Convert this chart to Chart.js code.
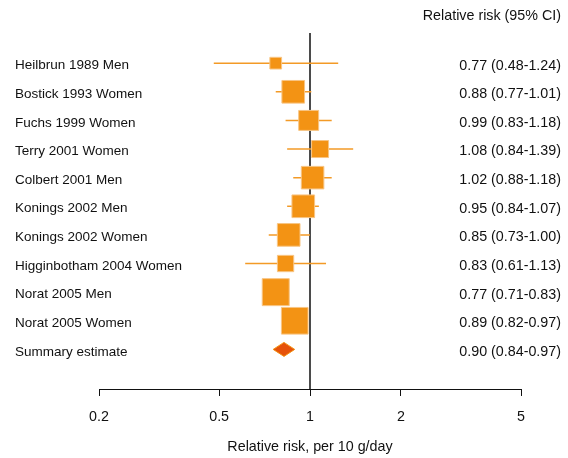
<!DOCTYPE html>
<html>
<head>
<meta charset="utf-8">
<script src="https://cdn.jsdelivr.net/npm/chart.js@4.4.1/dist/chart.umd.min.js"></script>
<style>
  html, body { margin: 0; padding: 0; background: #fff; }
  canvas { display: block; }
</style>
</head>
<body>
<canvas id="forest" width="568" height="458"></canvas>
<script>
'use strict';

// study rows, top to bottom
var studies = [
    'Heilbrun 1989 Men', 'Bostick 1993 Women', 'Fuchs 1999 Women', 'Terry 2001 Women',
    'Colbert 2001 Men', 'Konings 2002 Men', 'Konings 2002 Women',
    'Higginbotham 2004 Women', 'Norat 2005 Men', 'Norat 2005 Women'
];
var rr     = [0.77, 0.88, 0.99, 1.08, 1.02, 0.95, 0.85, 0.83, 0.77, 0.89];
var ciLow  = [0.48, 0.77, 0.83, 0.84, 0.88, 0.84, 0.73, 0.61, 0.71, 0.82];
var ciHigh = [1.24, 1.01, 1.18, 1.39, 1.18, 1.07, 1.00, 1.13, 0.83, 0.97];
// relative study weight (%)
var weights = [3.0, 11.2, 8.7, 6.3, 11.1, 11.2, 11.2, 5.8, 15.9, 15.5];
var ciText = [
    '0.77 (0.48-1.24)', '0.88 (0.77-1.01)', '0.99 (0.83-1.18)', '1.08 (0.84-1.39)',
    '1.02 (0.88-1.18)', '0.95 (0.84-1.07)', '0.85 (0.73-1.00)', '0.83 (0.61-1.13)',
    '0.77 (0.71-0.83)', '0.89 (0.82-0.97)'
];
var summaryLabel = 'Summary estimate';
var summaryText = '0.90 (0.84-0.97)';
// summary diamond as drawn: lower, estimate, upper
var summaryPlot = [0.755, 0.82, 0.89];
var xTicks = [0.2, 0.5, 1, 2, 5];

var rowLabels = studies.concat([summaryLabel]);
var rowTexts = ciText.concat([summaryText]);
var summaryRow = studies.length;

var yTop = -1.054, yBottom = 11.418;
var boxScale = 6.77;      // px of box side per sqrt(weight)
var diamondHalf = 0.245;  // rows
var orange = '#F39314';
var textColor = '#111';
var bigFont = { size: 14.3 };
var smallFont = { size: 13.5 };

Chart.defaults.font.family = '"Liberation Sans", Arial, Helvetica, sans-serif';
Chart.defaults.font.size = 14.3;
Chart.defaults.color = textColor;

var whiskers = studies.map(function(s, i) {
    return {
        data: [{x: ciLow[i], y: i}, {x: ciHigh[i], y: i}],
        showLine: true,
        borderColor: '#F39A26',
        borderWidth: 1.5,
        pointRadius: 0
    };
});

var boxes = {
    data: rr.map(function(v, i) { return {x: v, y: i}; }),
    pointStyle: 'rect',
    pointRadius: weights.map(function(w) { return boxScale * Math.sqrt(w) / Math.SQRT2; }),
    pointBackgroundColor: orange,
    pointBorderColor: '#F8C584',
    pointBorderWidth: 1
};

var diamond = {
    data: [
        {x: summaryPlot[0], y: summaryRow},
        {x: summaryPlot[1], y: summaryRow - diamondHalf},
        {x: summaryPlot[2], y: summaryRow},
        {x: summaryPlot[1], y: summaryRow + diamondHalf},
        {x: summaryPlot[0], y: summaryRow}
    ],
    showLine: true,
    fill: 'shape',
    backgroundColor: '#E6520A',
    borderColor: orange,
    borderWidth: 1,
    pointRadius: 0,
    tension: 0
};

var refLine = {
    data: [{x: 1, y: yTop}, {x: 1, y: yBottom}],
    showLine: true,
    borderColor: '#111',
    borderWidth: 1.5,
    pointRadius: 0
};

// mirrored ticks so the labels are not clipped to the narrow axis box
function rowAxis(position, labels, width, pad, font) {
    return {
        type: 'linear',
        position: position,
        reverse: true,
        min: yTop,
        max: yBottom,
        grid: { display: false },
        border: { display: false },
        afterBuildTicks: function(scale) {
            scale.ticks = labels.map(function(l, i) { return {value: i}; });
        },
        afterFit: function(scale) {
            scale.width = width;
            scale.paddingTop = 0;
            scale.paddingBottom = 0;
        },
        ticks: {
            autoSkip: false,
            mirror: true,
            crossAlign: 'near',
            padding: pad,
            labelOffset: 2.5,
            color: textColor,
            font: font,
            callback: function(v) { return labels[v]; }
        }
    };
}

var ctx = document.getElementById('forest');
var chart = new Chart(ctx, {
    type: 'scatter',
    data: {
        datasets: [boxes, diamond].concat(whiskers).concat([refLine])
    },
    options: {
        responsive: false,
        animation: false,
        layout: { padding: { left: 15, right: 7, top: 0, bottom: 2.4 } },
        plugins: {
            legend: { display: false },
            tooltip: { enabled: false },
            title: {
                display: true,
                text: 'Relative risk (95% CI)',
                align: 'end',
                color: textColor,
                font: { size: 14.3, weight: 'normal' },
                padding: { top: 7.4, bottom: 8.44 }
            }
        },
        scales: {
            x: {
                type: 'logarithmic',
                min: 0.2,
                max: 5,
                afterBuildTicks: function(scale) {
                    scale.ticks = xTicks.map(function(v) { return {value: v}; });
                },
                grid: { drawOnChartArea: false, drawTicks: true, tickLength: 6, color: '#111', lineWidth: 1 },
                border: { display: true, color: '#111', width: 1 },
                ticks: {
                    autoSkip: false,
                    maxRotation: 0,
                    padding: 12.4,
                    color: textColor,
                    font: bigFont,
                    callback: function(v) { return String(v); }
                },
                title: {
                    display: true,
                    text: 'Relative risk, per 10 g/day',
                    color: textColor,
                    font: bigFont,
                    padding: { top: 0.5, bottom: 0 }
                }
            },
            y: rowAxis('left', rowLabels, 84, -84, smallFont),
            y2: rowAxis('right', rowTexts, 40, 40, bigFont)
        }
    }
});
</script>
</body>
</html>
